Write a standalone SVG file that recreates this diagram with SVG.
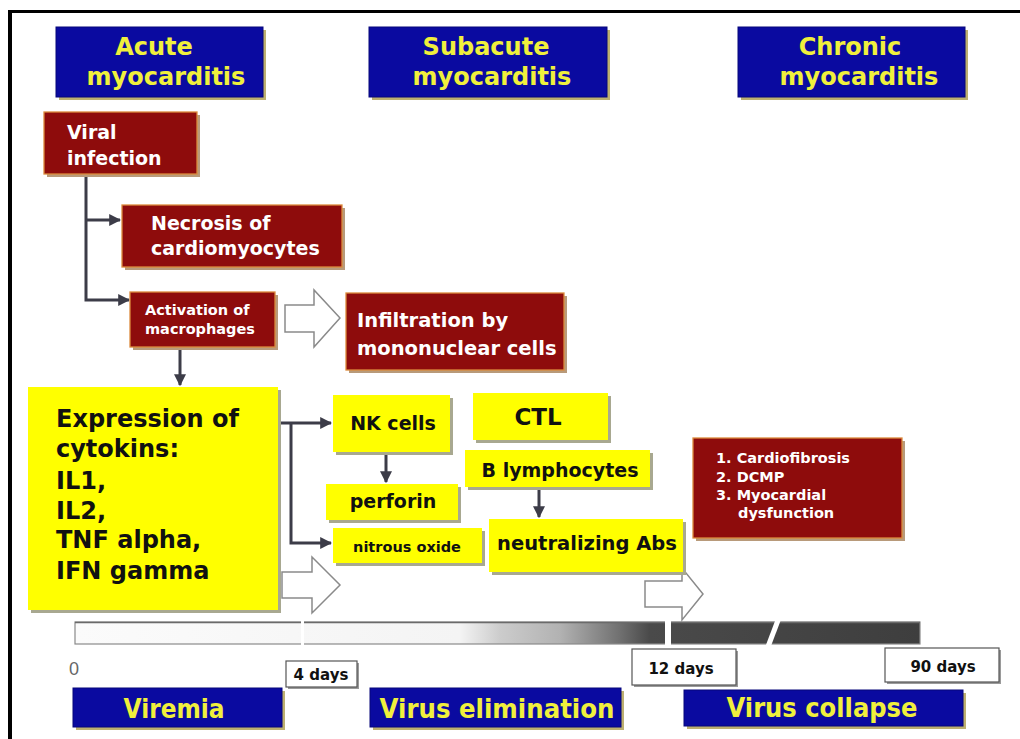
<svg xmlns="http://www.w3.org/2000/svg" width="1020" height="739" viewBox="0 0 1020 739">
<defs>
<style>
.blue{fill:#0a0aa0;stroke:#07077a;stroke-width:1}
.bsh{fill:#bdb070}
.red{fill:#8e0c0c;stroke:#dc8a3c;stroke-width:1.3}
.rsh{fill:#b89a7a}
.yel{fill:#ffff00}
.ysh{fill:#a8a890}
.day{fill:#fff;stroke:#555;stroke-width:1.2}
.dsh{fill:#9a9a9a}
.ht{font-family:"DejaVu Sans",Verdana,sans-serif;font-weight:bold;fill:#f0f03c;font-size:24px;text-anchor:middle}
.bt{font-family:"DejaVu Sans",Verdana,sans-serif;font-weight:bold;fill:#f0f03c;font-size:26px;text-anchor:middle}
.wt{font-family:"DejaVu Sans",Verdana,sans-serif;font-weight:bold;fill:#fff}
.kt{font-family:"DejaVu Sans",Verdana,sans-serif;font-weight:bold;fill:#111}
.dt{font-family:"DejaVu Sans",Verdana,sans-serif;font-weight:bold;fill:#111;font-size:15px;text-anchor:middle}
.con{fill:none;stroke:#3c3c48;stroke-width:3}
.hol{fill:#fff;stroke:#8a8a8a;stroke-width:1.5;stroke-linejoin:miter}
</style>
<marker id="ah" viewBox="0 0 10 10" refX="9" refY="5" markerWidth="4" markerHeight="4" orient="auto" markerUnits="strokeWidth"><path d="M0,0 L10,5 L0,10 z" fill="#3c3c48"/></marker>
<linearGradient id="barg" x1="75" y1="0" x2="920" y2="0" gradientUnits="userSpaceOnUse">
<stop offset="0" stop-color="#fbfbfb"/>
<stop offset="0.455" stop-color="#f4f4f4"/>
<stop offset="0.503" stop-color="#cccccc"/>
<stop offset="0.574" stop-color="#b2b2b2"/>
<stop offset="0.645" stop-color="#707070"/>
<stop offset="0.68" stop-color="#4a4a4a"/>
<stop offset="1" stop-color="#3e3e3e"/>
</linearGradient>
</defs>
<rect width="1020" height="739" fill="#fff"/>
<rect x="8" y="10" width="1012" height="3" fill="#000"/>
<rect x="8" y="10" width="4" height="729" fill="#000"/>

<g id="acute">
<rect class="bsh" x="59" y="30" width="207" height="70"/>
<rect class="blue" x="56" y="27" width="207" height="70"/>
<text class="ht" x="154" y="55">Acute</text>
<text class="ht" x="166" y="85">myocarditis</text>
</g>
<g id="subacute">
<rect class="bsh" x="372" y="30" width="238" height="70"/>
<rect class="blue" x="369" y="27" width="238" height="70"/>
<text class="ht" x="486" y="55">Subacute</text>
<text class="ht" x="492" y="85">myocarditis</text>
</g>
<g id="chronic">
<rect class="bsh" x="741" y="30" width="227" height="70"/>
<rect class="blue" x="738" y="27" width="227" height="70"/>
<text class="ht" x="850" y="55">Chronic</text>
<text class="ht" x="859" y="85">myocarditis</text>
</g>

<g id="connectors">
<path class="con" d="M86,174 V300 H129" marker-end="url(#ah)"/>
<path class="con" d="M86,220 H120" marker-end="url(#ah)"/>
<path class="con" d="M180,347 V385" marker-end="url(#ah)"/>
<path class="con" d="M278,423 H331" marker-end="url(#ah)"/>
<path class="con" d="M291,423 V543 H331" marker-end="url(#ah)"/>
<path class="con" d="M386,452 V482" marker-end="url(#ah)"/>
<path class="con" d="M539,487 V517" marker-end="url(#ah)"/>
<polygon class="hol" points="285,305 314,305 314,290 340,318 314,347 314,332 285,332"/>
<polygon class="hol" points="282,572 312,572 312,557 340,585 312,613 312,598 282,598"/>
<polygon class="hol" points="645,581 682,581 682,568 703,594 682,620 682,607 645,607"/>
</g>

<g id="viral">
<rect class="rsh" x="47" y="115" width="153" height="62"/>
<rect class="red" x="44" y="112" width="153" height="62"/>
<text class="wt" font-size="19" x="67" y="139">Viral</text>
<text class="wt" font-size="19" x="67" y="165">infection</text>
</g>
<g id="necrosis">
<rect class="rsh" x="125" y="208" width="220" height="62"/>
<rect class="red" x="122" y="205" width="220" height="62"/>
<text class="wt" font-size="19" x="151" y="230">Necrosis of</text>
<text class="wt" font-size="19" x="151" y="255">cardiomyocytes</text>
</g>
<g id="activation">
<rect class="rsh" x="133" y="295" width="145" height="55"/>
<rect class="red" x="130" y="292" width="145" height="55"/>
<text class="wt" font-size="14.5" x="145" y="315">Activation of</text>
<text class="wt" font-size="14.5" x="145" y="334">macrophages</text>
</g>
<g id="infiltration">
<rect class="rsh" x="349" y="296" width="218" height="77"/>
<rect class="red" x="346" y="293" width="218" height="77"/>
<text class="wt" font-size="19.5" x="357" y="327">Infiltration by</text>
<text class="wt" font-size="19.5" x="357" y="355">mononuclear cells</text>
</g>

<g id="cytokins">
<rect class="ysh" x="31" y="390" width="250" height="223"/>
<rect class="yel" x="28" y="387" width="250" height="223"/>
<text class="kt" font-size="24" x="56" y="427">Expression of</text>
<text class="kt" font-size="24" x="56" y="457">cytokins:</text>
<text class="kt" font-size="24" x="56" y="489">IL1,</text>
<text class="kt" font-size="24" x="56" y="519">IL2,</text>
<text class="kt" font-size="24" x="56" y="548">TNF alpha,</text>
<text class="kt" font-size="24" x="56" y="579">IFN gamma</text>
</g>
<g id="nk">
<rect class="ysh" x="336" y="398" width="117" height="57"/>
<rect class="yel" x="333" y="395" width="117" height="57"/>
<text class="kt" font-size="19" x="393" y="430" text-anchor="middle">NK cells</text>
</g>
<g id="ctl">
<rect class="ysh" x="476" y="396" width="135" height="47"/>
<rect class="yel" x="473" y="393" width="135" height="47"/>
<text class="kt" font-size="23" x="538" y="425" text-anchor="middle">CTL</text>
</g>
<g id="blymph">
<rect class="ysh" x="468" y="453" width="185" height="37"/>
<rect class="yel" x="465" y="450" width="185" height="37"/>
<text class="kt" font-size="19" x="560" y="477" text-anchor="middle">B lymphocytes</text>
</g>
<g id="perforin">
<rect class="ysh" x="329" y="487" width="132" height="36"/>
<rect class="yel" x="326" y="484" width="132" height="36"/>
<text class="kt" font-size="19" x="393" y="508" text-anchor="middle">perforin</text>
</g>
<g id="nitrous">
<rect class="ysh" x="336" y="531" width="149" height="35"/>
<rect class="yel" x="333" y="528" width="149" height="35"/>
<text class="kt" font-size="14.5" x="407" y="552" text-anchor="middle">nitrous oxide</text>
</g>
<g id="neutral">
<rect class="ysh" x="492" y="522" width="194" height="53"/>
<rect class="yel" x="489" y="519" width="194" height="53"/>
<text class="kt" font-size="19.5" x="587" y="550" text-anchor="middle">neutralizing Abs</text>
</g>

<g id="outcome">
<rect class="rsh" x="696" y="441" width="209" height="100"/>
<rect class="red" x="693" y="438" width="209" height="100"/>
<text class="wt" font-size="14.5" fill="#f8eeee" x="716" y="463">1. Cardiofibrosis</text>
<text class="wt" font-size="14.5" x="716" y="482">2. DCMP</text>
<text class="wt" font-size="14.5" x="716" y="500">3. Myocardial</text>
<text class="wt" font-size="14.5" x="738" y="518">dysfunction</text>
</g>

<g id="timeline">
<rect x="75" y="622" width="845" height="22" fill="url(#barg)" stroke="#8a8a8a" stroke-width="1.2"/>
<line x1="75" y1="622.5" x2="920" y2="622.5" stroke="#6a6a6a" stroke-width="1.5"/>
<rect x="301" y="618" width="3" height="30" fill="#fff"/>
<rect x="665" y="618" width="6" height="30" fill="#fff"/>
<line x1="766" y1="652" x2="780" y2="615" stroke="#fff" stroke-width="5"/>
<text x="74" y="675" font-family="Liberation Sans,Arial,sans-serif" font-size="18" fill="#666" text-anchor="middle">0</text>
</g>
<g id="d4">
<rect class="dsh" x="288" y="663" width="71" height="26"/>
<rect class="day" x="286" y="661" width="71" height="26"/>
<text class="dt" x="321" y="680">4 days</text>
</g>
<g id="d12">
<rect class="dsh" x="634" y="651" width="104" height="36"/>
<rect class="day" x="632" y="649" width="104" height="36"/>
<text class="dt" x="681" y="674">12 days</text>
</g>
<g id="d90">
<rect class="dsh" x="887" y="650" width="114" height="34"/>
<rect class="day" x="885" y="648" width="114" height="34"/>
<text class="dt" x="943" y="672">90 days</text>
</g>

<g id="viremia">
<rect class="bsh" x="76" y="691" width="209" height="39"/>
<rect class="blue" x="73" y="688" width="209" height="39"/>
<text class="bt" x="174" y="718" textLength="101" lengthAdjust="spacingAndGlyphs">Viremia</text>
</g>
<g id="elimination">
<rect class="bsh" x="373" y="691" width="251" height="39"/>
<rect class="blue" x="370" y="688" width="251" height="39"/>
<text class="bt" x="497" y="718" textLength="235" lengthAdjust="spacingAndGlyphs">Virus elimination</text>
</g>
<g id="collapse">
<rect class="bsh" x="687" y="693" width="279" height="36"/>
<rect class="blue" x="684" y="690" width="279" height="36"/>
<text class="bt" x="822" y="717" textLength="191" lengthAdjust="spacingAndGlyphs">Virus collapse</text>
</g>
</svg>
